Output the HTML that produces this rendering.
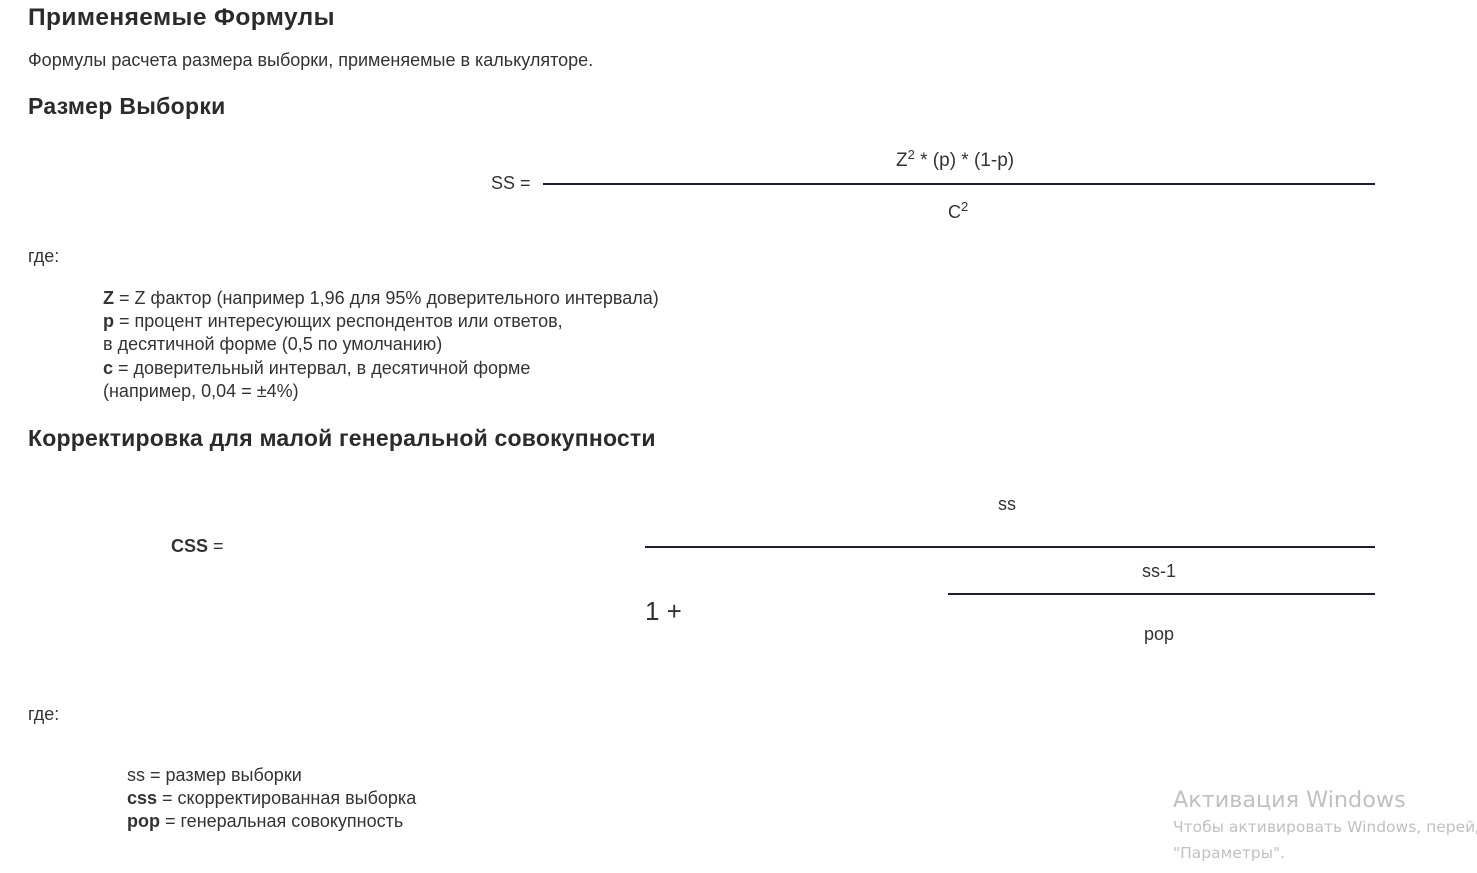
<!DOCTYPE html>
<html><head><meta charset="utf-8"><style>
body{margin:0;width:1477px;height:873px;background:#fff;position:relative;overflow:hidden;font-family:"Liberation Sans",Arial,sans-serif;color:#333}
.t{position:absolute;white-space:nowrap;line-height:1;font-size:18px}
.h{font-size:23px;font-weight:bold;color:#2b2b2b}
.l{position:absolute;height:2px;background:#1c1c3c}
sup{font-size:13px;vertical-align:7px;line-height:0}
.w{color:#c0c0c0;font-family:"DejaVu Sans",sans-serif}
</style></head><body>
<div class="t h" style="left:28px;top:6px;font-size:24.5px;letter-spacing:0.4px">Применяемые Формулы</div>
<div class="t" style="left:28px;top:51px">Формулы расчета размера выборки, применяемые в калькуляторе.</div>
<div class="t h" style="left:28px;top:95px;letter-spacing:0.3px">Размер Выборки</div>
<div class="t" style="left:491px;top:174px">SS =</div>
<div class="t" style="left:896px;top:151px;font-size:19px">Z<sup>2</sup> * (p) * (1-p)</div>
<div class="l" style="left:543px;top:183px;width:832px"></div>
<div class="t" style="left:948px;top:203px">C<sup>2</sup></div>
<div class="t" style="left:28px;top:247px">где:</div>
<div class="t" style="left:103px;top:289px"><b>Z</b> = Z фактор (например 1,96 для 95% доверительного интервала)</div>
<div class="t" style="left:103px;top:312px"><b>p</b> = процент интересующих респондентов или ответов,</div>
<div class="t" style="left:103px;top:335px">в десятичной форме (0,5 по умолчанию)</div>
<div class="t" style="left:103px;top:359px"><b>c</b> = доверительный интервал, в десятичной форме</div>
<div class="t" style="left:103px;top:382px">(например, 0,04 = ±4%)</div>
<div class="t h" style="left:28px;top:427px;letter-spacing:0.2px">Корректировка для малой генеральной совокупности</div>
<div class="t" style="left:998px;top:495px">ss</div>
<div class="t" style="left:171px;top:537px"><b>CSS</b> =</div>
<div class="l" style="left:645px;top:546px;width:730px"></div>
<div class="t" style="left:1142px;top:562px">ss-1</div>
<div class="t" style="left:645px;top:598px;font-size:26px">1 +</div>
<div class="l" style="left:948px;top:593px;width:427px"></div>
<div class="t" style="left:1144px;top:625px">pop</div>
<div class="t" style="left:28px;top:705px">где:</div>
<div class="t" style="left:127px;top:766px">ss = размер выборки</div>
<div class="t" style="left:127px;top:789px"><b>css</b> = скорректированная выборка</div>
<div class="t" style="left:127px;top:812px"><b>pop</b> = генеральная совокупность</div>
<div class="t w" style="left:1173px;top:789px;font-size:22.3px">Активация Windows</div>
<div class="t w" style="left:1173px;top:820px;font-size:15.5px">Чтобы активировать Windows, перейдите</div>
<div class="t w" style="left:1173px;top:846px;font-size:15.5px">"Параметры".</div>
</body></html>
